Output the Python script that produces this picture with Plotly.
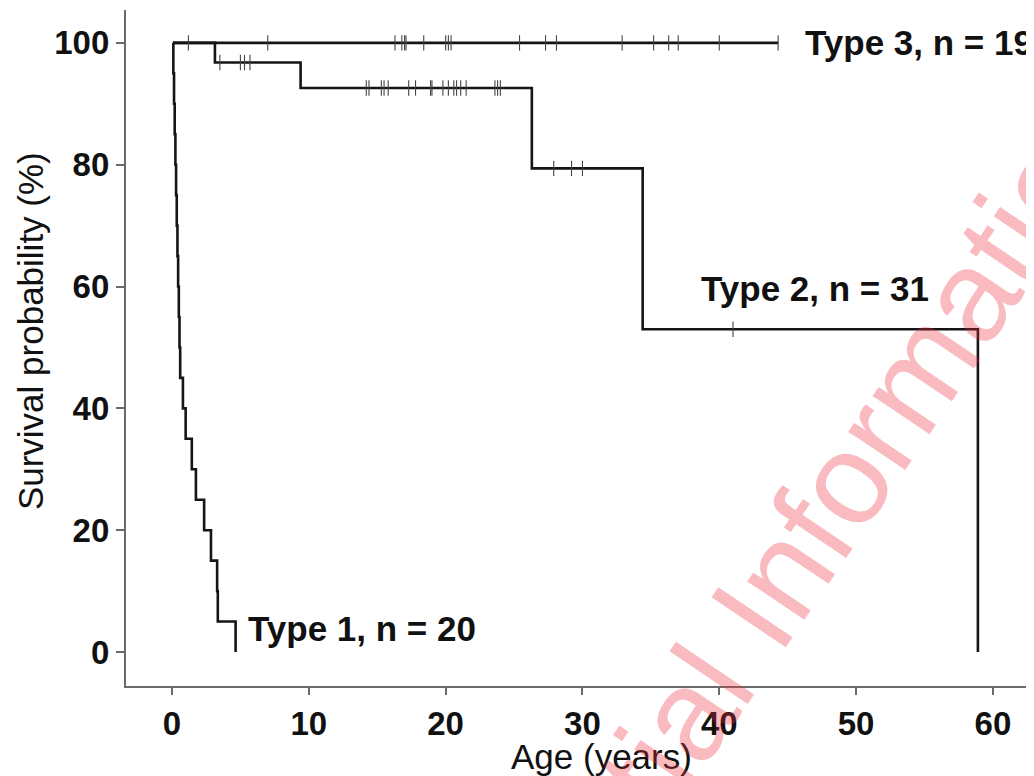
import plotly.graph_objects as go

# ---- data ----
# Kaplan-Meier step curves: time (years) where survival changes, survival (%) after that time
type1_time = [0.07, 0.10, 0.15, 0.20, 0.25, 0.30, 0.35, 0.40, 0.45, 0.50, 0.55,
              0.60, 0.80, 1.00, 1.45, 1.75, 2.35, 2.85, 3.30, 3.35, 4.65]
type1_surv = [100, 95, 90, 85, 80, 75, 70, 65, 60, 55, 50,
              45, 40, 35, 30, 25, 20, 15, 10, 5, 0]

type2_time = [0.07, 3.14, 9.4, 26.3, 34.4, 58.9]
type2_surv = [100, 96.77, 92.6, 79.4, 53.0, 0]

type3_time = [0.07, 44.3]
type3_surv = [100, 100]

# censored observations (time, years)
type2_cens_time = [3.5, 5.0, 5.3, 5.7, 14.2, 14.4, 15.3, 15.5, 15.8, 17.3, 17.8,
                   18.9, 19.0, 19.8, 20.2, 20.6, 20.8, 21.1, 21.5, 23.6, 23.8,
                   24.0, 27.9, 29.2, 30.0, 41.0]
type3_cens_time = [1.2, 7.0, 16.3, 16.8, 17.0, 17.1, 18.4, 20.0, 20.2, 20.4,
                   25.4, 27.3, 28.1, 32.9, 35.2, 36.3, 37.0, 40.0, 44.3]

labels = ["Type 1, n = 20", "Type 2, n = 31", "Type 3, n = 19"]
label_x = [5.4, 38.5, 46.1]
label_y = [3.8, 59.6, 100]

x_ticks = [0, 10, 20, 30, 40, 50, 60]
y_ticks = [0, 20, 40, 60, 80, 100]


def surv_at(t, times, survs):
    s = survs[0]
    for tt, ss in zip(times, survs):
        if tt <= t:
            s = ss
    return s


LINE = "#151515"
FONT = "Liberation Sans, Arial, sans-serif"

fig = go.Figure()

for t, s in [(type1_time, type1_surv), (type2_time, type2_surv), (type3_time, type3_surv)]:
    fig.add_trace(go.Scatter(x=t, y=s, mode="lines", line=dict(color=LINE, width=2.6, shape="hv"),
                             showlegend=False, hoverinfo="skip"))

for ct, (t, s) in [(type2_cens_time, (type2_time, type2_surv)),
                   (type3_cens_time, (type3_time, type3_surv))]:
    fig.add_trace(go.Scatter(
        x=ct, y=[surv_at(c, t, s) for c in ct], mode="markers",
        marker=dict(symbol="line-ns", size=11, line=dict(color="#444444", width=1.1)),
        showlegend=False, hoverinfo="skip"))

for txt, lx, ly in zip(labels, label_x, label_y):
    fig.add_annotation(x=lx, y=ly, text=txt, showarrow=False, xanchor="left", yanchor="middle",
                       font=dict(family=FONT, size=35, color="#111111", weight="bold"))

# axis titles
fig.add_annotation(xref="paper", yref="paper", x=0.524, y=-0.105, text="Age (years)",
                   showarrow=False, xanchor="center", yanchor="middle",
                   font=dict(family=FONT, size=35, color="#111111"))
fig.add_annotation(xref="paper", yref="paper", x=-0.1057, y=0.525, text="Survival probability (%)",
                   showarrow=False, xanchor="center", yanchor="middle", textangle=-90,
                   font=dict(family=FONT, size=35, color="#111111"))

# watermark
fig.add_annotation(xref="paper", yref="paper", x=0.656, y=0.0355, text="Confidential Information",
                   showarrow=False, textangle=-56, xanchor="center", yanchor="middle",
                   font=dict(family=FONT, size=130, color="rgba(235,40,60,0.32)"))

# the page body adds an 8 px offset, so margins are shifted to compensate
fig.update_layout(
    width=1034, height=776,
    margin=dict(l=118, r=8, t=2, b=98),
    paper_bgcolor="white", plot_bgcolor="white",
    font=dict(family=FONT, color="#111111"),
)
fig.update_xaxes(range=[-3.36, 63.0], tickvals=x_ticks, ticktext=[str(v) for v in x_ticks],
                 automargin=False,
                 showgrid=False, zeroline=False, showline=True, linecolor="#6a6a6a", linewidth=2.2,
                 ticks="outside", ticklen=7, tickwidth=1.5, tickcolor="#6a6a6a",
                 tickfont=dict(family=FONT, size=33, color="#111111", weight="bold"))
fig.update_yaxes(range=[-5.58, 105.4], tickvals=y_ticks, ticktext=[str(v) for v in y_ticks],
                 automargin=False,
                 showgrid=False, zeroline=False, showline=True, linecolor="#6a6a6a", linewidth=2.2,
                 ticks="outside", ticklen=8, tickwidth=1.5, tickcolor="#6a6a6a",
                 tickfont=dict(family=FONT, size=33, color="#111111", weight="bold"))

fig.write_html("out.html")
